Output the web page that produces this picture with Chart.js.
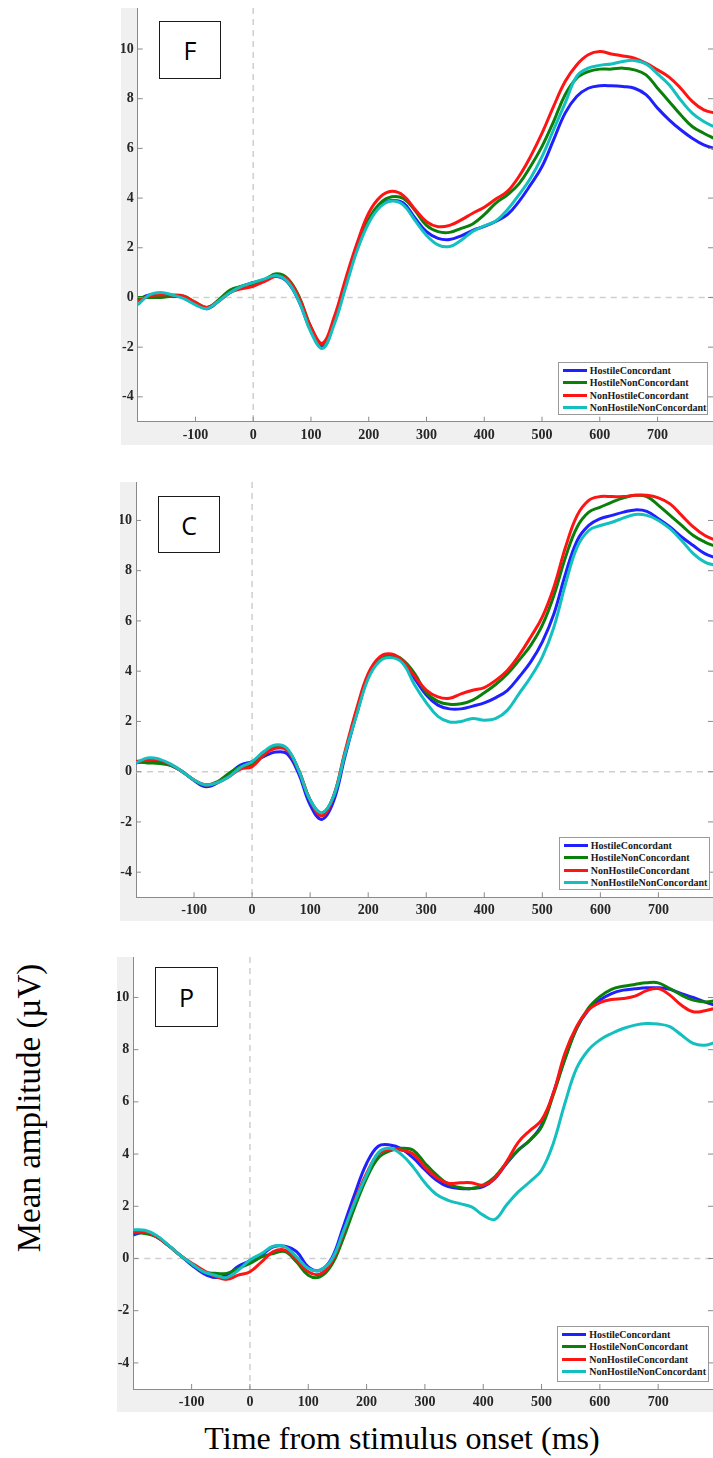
<!DOCTYPE html>
<html>
<head>
<meta charset="utf-8">
<script src="https://cdn.jsdelivr.net/npm/chart.js@4.4.1/dist/chart.umd.min.js"></script>
<style>
  body { margin: 0; background: #fff; width: 713px; height: 1458px; position: relative; overflow: hidden; }
  canvas { position: absolute; }
  .tag { position: absolute; box-sizing: border-box; border: 1.5px solid #1a1a1a; background: #fff;
         font-family: "Open Sans", "Noto Sans", sans-serif; font-size: 25px; color: #000;
         display: flex; align-items: center; justify-content: center; }
  .legend { position: absolute; box-sizing: border-box; border: 1px solid #9a9a9a; background: #fff;
            padding: 2px 0 0 4px; font-family: "Liberation Serif", serif; font-weight: bold; font-size: 10px; color: #1a1a1a; }
  .legend .row { height: 12.5px; line-height: 12.5px; white-space: nowrap; }
  .legend .sw { display: inline-block; width: 24px; height: 3px; vertical-align: middle; margin-right: 3px; position: relative; top: -1px; }
  .ylab { position: absolute; left: 29px; top: 1108px; transform: translate(-50%, -50%) rotate(-90deg);
          font-family: "Liberation Serif", serif; font-size: 33px; white-space: nowrap; color: #000; }
  .xlab { position: absolute; left: 402px; top: 1438px; transform: translate(-50%, -50%);
          font-family: "Liberation Serif", serif; font-size: 32px; white-space: nowrap; color: #000; }
</style>
</head>
<body>
<div class="ylab">Mean amplitude (µV)</div>
<div class="xlab">Time from stimulus onset (ms)</div>
<script>
// sample times (ms) and tick labels
var times = [-200, -180, -160, -140, -120, -100, -80, -60, -40, -20, 0, 20, 40, 60, 80, 100, 120, 140, 160, 180,
             200, 220, 240, 260, 280, 300, 320, 340, 360, 380, 400, 420, 440, 460, 480, 500, 520, 540, 560, 580,
             600, 620, 640, 660, 680, 700, 720, 740, 760, 780, 800];
var xTicks = [-100, 0, 100, 200, 300, 400, 500, 600, 700];
var yTicks = [-4, -2, 0, 2, 4, 6, 8, 10];
var seriesNames = ["HostileConcordant", "HostileNonConcordant", "NonHostileConcordant", "NonHostileNonConcordant"];
var panelNames = ["F", "C", "P"];

// F
var fHostileConc = [-0.1, 0.1, 0.1, 0.05, 0.0, -0.25, -0.45, -0.15, 0.2, 0.45, 0.6, 0.72, 0.85, 0.6, -0.2, -1.35, -2.0, -1.0, 0.5, 2.0,
                    3.1, 3.7, 3.9, 3.8, 3.2, 2.65, 2.38, 2.33, 2.48, 2.7, 2.86, 3.06, 3.33, 3.86, 4.53, 5.27, 6.34, 7.42, 8.09, 8.42,
                    8.52, 8.52, 8.49, 8.42, 8.16, 7.62, 7.15, 6.75, 6.41, 6.14, 5.98];
var fHostileNonConc = [0.0, 0.0, 0.0, 0.05, 0.05, -0.2, -0.4, -0.1, 0.3, 0.45, 0.55, 0.72, 0.95, 0.75, 0.0, -1.2, -1.9, -1.0, 0.5, 2.0,
                       3.15, 3.8, 4.05, 3.98, 3.5, 2.9, 2.65, 2.62, 2.78, 2.96, 3.33, 3.8, 4.13, 4.57, 5.27, 6.08, 7.08, 8.16, 8.83, 9.09,
                       9.19, 9.19, 9.23, 9.16, 8.96, 8.42, 7.89, 7.35, 6.88, 6.61, 6.38];
var fNonHostileConc = [-0.15, 0.05, 0.1, 0.1, 0.05, -0.2, -0.4, -0.15, 0.2, 0.35, 0.45, 0.65, 0.85, 0.72, -0.05, -1.2, -1.85, -0.8, 0.75, 2.2,
                       3.4, 4.05, 4.27, 4.1, 3.55, 3.05, 2.85, 2.9, 3.12, 3.39, 3.63, 3.96, 4.27, 4.87, 5.67, 6.61, 7.69, 8.69, 9.36, 9.77,
                       9.9, 9.8, 9.72, 9.63, 9.43, 9.16, 8.87, 8.42, 7.89, 7.55, 7.42];
var fNonHostileNonConc = [-0.3, 0.1, 0.2, 0.1, -0.05, -0.3, -0.45, -0.15, 0.2, 0.45, 0.6, 0.75, 0.88, 0.62, -0.2, -1.4, -2.05, -1.1, 0.4, 1.9,
                          3.0, 3.65, 3.88, 3.72, 3.1, 2.5, 2.12, 2.05, 2.3, 2.66, 2.88, 3.08, 3.53, 4.13, 4.8, 5.67, 6.75, 7.82, 8.9, 9.23,
                          9.34, 9.4, 9.5, 9.54, 9.4, 9.0, 8.56, 7.95, 7.42, 7.08, 6.85];

// C
var cHostileConc = [0.35, 0.4, 0.4, 0.25, 0.0, -0.35, -0.6, -0.45, -0.1, 0.26, 0.4, 0.6, 0.78, 0.72, -0.07, -1.32, -1.9, -1.2, 0.6, 2.3,
                    3.77, 4.44, 4.6, 4.37, 3.7, 3.05, 2.65, 2.5, 2.5, 2.61, 2.74, 2.95, 3.24, 3.77, 4.37, 5.17, 6.29, 7.88, 9.2, 9.8,
                    10.07, 10.2, 10.33, 10.42, 10.36, 10.07, 9.74, 9.34, 9.0, 8.68, 8.5];
var cHostileNonConc = [0.4, 0.35, 0.33, 0.25, 0.0, -0.33, -0.53, -0.4, -0.07, 0.2, 0.26, 0.66, 1.0, 0.89, 0.07, -1.13, -1.65, -1.0, 0.73, 2.3,
                       3.77, 4.44, 4.63, 4.44, 3.9, 3.15, 2.8, 2.68, 2.7, 2.85, 3.14, 3.48, 3.9, 4.44, 5.03, 5.83, 7.02, 8.54, 9.74, 10.33,
                       10.53, 10.73, 10.9, 11.0, 10.95, 10.6, 10.2, 9.8, 9.4, 9.14, 8.95];
var cNonHostileConc = [0.4, 0.45, 0.45, 0.28, 0.0, -0.33, -0.53, -0.44, -0.2, 0.1, 0.2, 0.66, 0.93, 0.86, 0.07, -1.13, -1.76, -1.0, 0.8, 2.5,
                       3.9, 4.57, 4.68, 4.4, 3.8, 3.25, 2.98, 2.92, 3.1, 3.24, 3.35, 3.64, 4.04, 4.64, 5.36, 6.16, 7.35, 8.94, 10.2, 10.8,
                       10.95, 10.95, 10.95, 11.0, 11.0, 10.9, 10.66, 10.2, 9.74, 9.4, 9.2];
var cNonHostileNonConc = [0.35, 0.55, 0.5, 0.3, 0.0, -0.33, -0.53, -0.44, -0.2, 0.17, 0.4, 0.8, 1.06, 0.93, 0.07, -1.13, -1.63, -1.0, 0.7, 2.25,
                          3.7, 4.4, 4.54, 4.3, 3.45, 2.75, 2.2, 1.98, 2.0, 2.12, 2.05, 2.12, 2.45, 3.11, 3.77, 4.57, 5.76, 7.48, 8.94, 9.6,
                          9.8, 9.93, 10.1, 10.24, 10.2, 10.0, 9.67, 9.2, 8.68, 8.34, 8.2];

// P
var pHostileConc = [0.9, 1.0, 0.83, 0.5, 0.13, -0.25, -0.57, -0.73, -0.64, -0.3, -0.09, 0.13, 0.45, 0.47, 0.26, -0.32, -0.45, 0.0, 1.21, 2.49,
                    3.64, 4.3, 4.35, 4.2, 3.85, 3.4, 3.0, 2.75, 2.68, 2.68, 2.75, 3.07, 3.64, 4.15, 4.53, 5.11, 6.32, 7.66, 8.81, 9.51,
                    9.9, 10.15, 10.28, 10.33, 10.37, 10.37, 10.31, 10.15, 10.0, 9.83, 9.68];
var pHostileNonConc = [1.0, 0.96, 0.83, 0.5, 0.13, -0.2, -0.5, -0.57, -0.57, -0.38, -0.19, 0.06, 0.19, 0.26, -0.13, -0.64, -0.7, -0.25, 0.77, 1.98,
                       3.07, 3.85, 4.12, 4.22, 4.15, 3.65, 3.2, 2.85, 2.72, 2.68, 2.81, 3.13, 3.67, 4.15, 4.53, 5.04, 6.26, 7.62, 8.81, 9.58,
                       10.03, 10.31, 10.43, 10.5, 10.56, 10.56, 10.34, 10.09, 9.9, 9.83, 9.88];
var pNonHostileConc = [1.0, 1.02, 0.83, 0.5, 0.13, -0.17, -0.45, -0.68, -0.8, -0.64, -0.51, -0.13, 0.26, 0.32, -0.06, -0.51, -0.6, -0.13, 0.96, 2.23,
                       3.26, 4.0, 4.18, 4.15, 4.0, 3.5, 3.1, 2.88, 2.9, 2.9, 2.81, 3.07, 3.7, 4.45, 4.9, 5.3, 6.32, 7.85, 8.88, 9.51,
                       9.8, 9.92, 9.96, 10.05, 10.26, 10.34, 10.09, 9.7, 9.45, 9.49, 9.6];
var pNonHostileNonConc = [1.1, 1.08, 0.88, 0.52, 0.13, -0.2, -0.5, -0.64, -0.73, -0.45, -0.06, 0.19, 0.47, 0.45, 0.06, -0.38, -0.45, -0.05, 1.02, 2.17,
                          3.19, 4.05, 4.22, 3.98, 3.5, 2.9, 2.45, 2.23, 2.1, 1.98, 1.66, 1.5, 2.05, 2.55, 2.94, 3.38, 4.4, 5.94, 7.28, 7.98,
                          8.37, 8.62, 8.81, 8.94, 9.0, 8.98, 8.88, 8.56, 8.24, 8.17, 8.3];

var panelSeries = [
    [fHostileConc, fHostileNonConc, fNonHostileConc, fNonHostileNonConc],
    [cHostileConc, cHostileNonConc, cNonHostileConc, cNonHostileNonConc],
    [pHostileConc, pHostileNonConc, pNonHostileConc, pNonHostileNonConc]
];

// layout of each panel (page pixels)
var panels = [
    { left: 121, top: 8,   height: 437, axisLeft: 137.7, axisBottom: 421.7, yMax: 11.65, xMax: 796,
      tag: [159, 21, 62, 58], legend: [557.7, 361.7, 150.6, 53.3] },
    { left: 120, top: 482, height: 439, axisLeft: 136,   axisBottom: 897.3, yMax: 11.53, xMax: 794,
      tag: [158, 496, 62, 57], legend: [558.7, 836.7, 151.3, 53.3] },
    { left: 117, top: 957, height: 455, axisLeft: 133.3, axisBottom: 1389,  yMax: 11.55, xMax: 794,
      tag: [155, 967, 63, 60], legend: [557.3, 1325.7, 152, 56] }
];

var colors = ["#2020ff", "#0a800a", "#ff1414", "#14bfbf"];
var tickFont = { family: "Liberation Serif", size: 14, weight: "bold" };

var figureBg = {
    id: "figureBg",
    beforeDraw: function (chart) {
        var ctx = chart.ctx, a = chart.chartArea;
        ctx.save();
        ctx.fillStyle = "#f0f0f0";
        ctx.fillRect(0, 0, chart.width, chart.height);
        ctx.fillStyle = "#ffffff";
        ctx.fillRect(a.left, a.top, a.right - a.left, a.bottom - a.top);
        ctx.restore();
    }
};

var zeroLines = {
    id: "zeroLines",
    beforeDatasetsDraw: function (chart) {
        var ctx = chart.ctx, a = chart.chartArea;
        var x0 = chart.scales.x.getPixelForValue(0);
        var y0 = chart.scales.y.getPixelForValue(0);
        ctx.save();
        ctx.strokeStyle = "#cfcfcf";
        ctx.lineWidth = 1.5;
        ctx.setLineDash([6, 5]);
        ctx.beginPath();
        ctx.moveTo(a.left, y0); ctx.lineTo(a.right, y0);
        ctx.moveTo(x0, a.top); ctx.lineTo(x0, a.bottom);
        ctx.stroke();
        ctx.restore();
    }
};

// matlab style ticks pointing into the plot
var innerTicks = {
    id: "innerTicks",
    afterDraw: function (chart) {
        var ctx = chart.ctx, a = chart.chartArea;
        ctx.save();
        ctx.strokeStyle = "#8a8a8a";
        ctx.lineWidth = 1;
        ctx.beginPath();
        chart.scales.x.ticks.forEach(function (t) {
            var px = chart.scales.x.getPixelForValue(t.value);
            ctx.moveTo(px, a.bottom); ctx.lineTo(px, a.bottom - 5);
        });
        chart.scales.y.ticks.forEach(function (t) {
            var py = chart.scales.y.getPixelForValue(t.value);
            ctx.moveTo(a.left, py); ctx.lineTo(a.left + 5, py);
            ctx.moveTo(a.right, py); ctx.lineTo(a.right - 5, py);
        });
        ctx.stroke();
        ctx.restore();
    }
};

panels.forEach(function (p, k) {
    var canvas = document.createElement("canvas");
    canvas.width = 713 - p.left;
    canvas.height = p.height;
    canvas.style.left = p.left + "px";
    canvas.style.top = p.top + "px";
    document.body.appendChild(canvas);

    var datasets = seriesNames.map(function (name, i) {
        return {
            label: name,
            data: times.map(function (t, j) { return { x: t, y: panelSeries[k][i][j] }; }),
            borderColor: colors[i],
            backgroundColor: colors[i],
            borderWidth: 3,
            pointRadius: 0,
            tension: 0.4,
            order: 3 - i
        };
    });

    var chart = new Chart(canvas, {
        type: "line",
        data: { datasets: datasets },
        options: {
            responsive: false,
            animation: false,
            layout: { padding: 0 },
            plugins: { legend: { display: false }, tooltip: { enabled: false } },
            scales: {
                x: {
                    type: "linear",
                    min: -200,
                    max: p.xMax,
                    afterBuildTicks: function (scale) {
                        scale.ticks = xTicks.map(function (v) { return { value: v }; });
                    },
                    afterFit: function (scale) {
                        scale.height = p.top + p.height - p.axisBottom;
                        scale.paddingLeft = 0;
                        scale.paddingRight = 0;
                    },
                    grid: { display: false, drawTicks: false },
                    border: { display: true, color: "#8a8a8a", width: 1 },
                    ticks: { font: tickFont, color: "#262626", padding: 5, maxRotation: 0, autoSkip: false }
                },
                y: {
                    min: -5,
                    max: p.yMax,
                    afterBuildTicks: function (scale) {
                        scale.ticks = yTicks.map(function (v) { return { value: v }; });
                    },
                    afterFit: function (scale) {
                        scale.width = p.axisLeft - p.left;
                        scale.paddingTop = 0;
                        scale.paddingBottom = 0;
                    },
                    grid: { display: false, drawTicks: false },
                    border: { display: true, color: "#8a8a8a", width: 1 },
                    ticks: { font: tickFont, color: "#262626", padding: 4 }
                }
            }
        },
        plugins: [figureBg, zeroLines, innerTicks]
    });

    // panel letter box
    var tag = document.createElement("div");
    tag.className = "tag";
    tag.style.left = p.tag[0] + "px";
    tag.style.top = p.tag[1] + "px";
    tag.style.width = p.tag[2] + "px";
    tag.style.height = p.tag[3] + "px";
    tag.textContent = panelNames[k];
    document.body.appendChild(tag);

    // legend built from the chart datasets
    var lg = document.createElement("div");
    lg.className = "legend";
    lg.style.left = p.legend[0] + "px";
    lg.style.top = p.legend[1] + "px";
    lg.style.width = p.legend[2] + "px";
    lg.style.height = p.legend[3] + "px";
    chart.data.datasets.forEach(function (ds) {
        var row = document.createElement("div");
        row.className = "row";
        var sw = document.createElement("span");
        sw.className = "sw";
        sw.style.background = ds.borderColor;
        row.appendChild(sw);
        row.appendChild(document.createTextNode(ds.label));
        lg.appendChild(row);
    });
    document.body.appendChild(lg);
});
</script>
</body>
</html>
